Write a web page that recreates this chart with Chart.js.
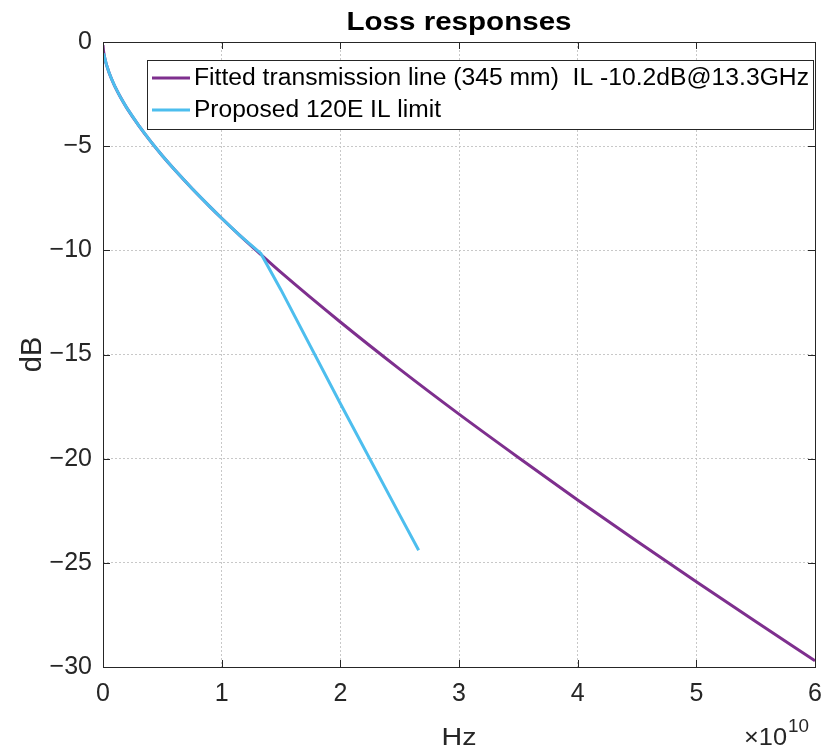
<!DOCTYPE html>
<html>
<head>
<meta charset="utf-8">
<script src="https://cdn.jsdelivr.net/npm/chart.js@4/dist/chart.umd.min.js"></script>
<style>
  html, body { margin: 0; padding: 0; background: #fff; }
  #wrap { width: 830px; height: 751px; }
</style>
</head>
<body>
<div id="wrap"><canvas id="lossChart" width="830" height="751"></canvas></div>
<script>
// --- Data (x in units of 1e10 Hz, y in dB) ---
const fittedFreq = [0, 0.005, 0.01, 0.02, 0.03, 0.05, 0.075, 0.1, 0.15, 0.2, 0.3, 0.4, 0.5, 0.6, 0.75, 0.9, 1.0, 1.15, 1.33, 1.5, 2.0, 2.5, 3.0, 3.5, 4.0, 4.5, 5.0, 5.5, 6.0];
const fittedLoss = [-0.15, -0.45, -0.62, -0.89, -1.10, -1.45, -1.81, -2.13, -2.68, -3.16, -4.00, -4.76, -5.46, -6.11, -7.03, -7.90, -8.46, -9.27, -10.2, -11.06, -13.44, -15.70, -17.86, -19.94, -21.98, -23.96, -25.91, -27.82, -29.70];

const limitFreq = [0.005, 0.01, 0.02, 0.03, 0.05, 0.075, 0.1, 0.15, 0.2, 0.3, 0.4, 0.5, 0.6, 0.75, 0.9, 1.0, 1.15, 1.33, 1.5, 2.0, 2.5, 2.66];
const limitLoss = [-0.55, -0.65, -0.90, -1.10, -1.45, -1.81, -2.13, -2.68, -3.16, -4.00, -4.76, -5.46, -6.11, -7.03, -7.90, -8.46, -9.27, -10.15, -11.9, -17.35, -22.7, -24.4];

const xTicks = [0, 1, 2, 3, 4, 5, 6];
const yTicks = [0, -5, -10, -15, -20, -25, -30];

const seriesNames = ['Fitted transmission line (345 mm)  IL -10.2dB@13.3GHz', 'Proposed 120E IL limit'];
const seriesColors = ['#7E2F8E', '#4DBEEE'];

const FONT = '"Liberation Sans", Arial, Helvetica, sans-serif';
const TEXT = '#262626';

const toPoints = (xs, ys) => xs.map((x, i) => ({ x, y: ys[i] }));
const fmtTick = (v) => (v < 0 ? '\u2212' + Math.abs(v) : String(v));

// draw text stretched horizontally to a target width (left edge or centre)
const drawStretched = (ctx, text, x, y, font, targetWidth, align) => {
    ctx.save();
    ctx.font = font;
    ctx.textAlign = 'left';
    const w = ctx.measureText(text).width;
    const sx = targetWidth ? targetWidth / w : 1;
    const left = align === 'center' ? x - (w * sx) / 2 : x;
    ctx.translate(left, y);
    ctx.scale(sx, 1);
    ctx.fillText(text, 0, 0);
    ctx.restore();
};

// --- Plugin: box, inward ticks, tick labels, title, axis labels, legend ---
const matlabDecor = {
    id: 'matlabDecor',
    afterDraw(chart) {
        const { ctx, chartArea: a, scales } = chart;
        ctx.save();

        // axes box
        ctx.strokeStyle = '#262626';
        ctx.lineWidth = 1;
        ctx.strokeRect(a.left + 0.5, a.top + 0.5, a.right - a.left, a.bottom - a.top);

        // inward tick marks
        const tl = 7;
        ctx.beginPath();
        xTicks.forEach(v => {
            const px = Math.round(scales.x.getPixelForValue(v)) + 0.5;
            ctx.moveTo(px, a.bottom); ctx.lineTo(px, a.bottom - tl);
            ctx.moveTo(px, a.top); ctx.lineTo(px, a.top + tl);
        });
        yTicks.forEach(v => {
            const py = Math.round(scales.y.getPixelForValue(v)) + 0.5;
            ctx.moveTo(a.left, py); ctx.lineTo(a.left + tl, py);
            ctx.moveTo(a.right, py); ctx.lineTo(a.right - tl, py);
        });
        ctx.stroke();

        // tick labels
        ctx.fillStyle = TEXT;
        ctx.font = '25px ' + FONT;
        ctx.textBaseline = 'middle';
        ctx.textAlign = 'center';
        xTicks.forEach(v => {
            ctx.fillText(fmtTick(v), scales.x.getPixelForValue(v), a.bottom + 27);
        });
        ctx.textAlign = 'right';
        yTicks.forEach(v => {
            ctx.fillText(fmtTick(v), a.left - 11, scales.y.getPixelForValue(v));
        });

        // title
        ctx.fillStyle = '#000';
        ctx.textBaseline = 'alphabetic';
        drawStretched(ctx, 'Loss responses', (a.left + a.right) / 2, 30, 'bold 25.5px ' + FONT, 225, 'center');

        // axis titles
        ctx.fillStyle = TEXT;
        drawStretched(ctx, 'Hz', (a.left + a.right) / 2, 745, '23.5px ' + FONT, 35, 'center');
        ctx.save();
        ctx.translate(41, (a.top + a.bottom) / 2);
        ctx.rotate(-Math.PI / 2);
        ctx.font = '29px ' + FONT;
        ctx.textAlign = 'center';
        ctx.fillText('dB', 0, 0);
        ctx.restore();

        // exponent label
        drawStretched(ctx, '\u00d710', 744, 745, '23.5px ' + FONT, 43, 'left');
        drawStretched(ctx, '10', 788, 732, '18.5px ' + FONT, 21, 'left');

        // legend
        const lx = 147, ly = 60, lw = 666, lh = 69;
        ctx.fillStyle = '#fff';
        ctx.fillRect(lx, ly, lw, lh);
        ctx.strokeStyle = '#262626';
        ctx.lineWidth = 1;
        ctx.strokeRect(lx + 0.5, ly + 0.5, lw, lh);
        const targets = [615, 247];
        seriesNames.forEach((name, i) => {
            const y = ly + 18 + i * 32;
            ctx.strokeStyle = seriesColors[i];
            ctx.lineWidth = 3;
            ctx.beginPath();
            ctx.moveTo(lx + 5, y); ctx.lineTo(lx + 43, y);
            ctx.stroke();
            ctx.fillStyle = '#000';
            ctx.textBaseline = 'middle';
            drawStretched(ctx, name, lx + 47, y + 1, '23.3px ' + FONT, targets[i], 'left');
        });

        ctx.restore();
    }
};

const ctx = document.getElementById('lossChart').getContext('2d');
new Chart(ctx, {
    type: 'line',
    data: {
        datasets: [
            {
                label: seriesNames[1],
                data: toPoints(limitFreq, limitLoss),
                borderColor: seriesColors[1],
                borderWidth: 3,
                pointRadius: 0,
                tension: 0
            },
            {
                label: seriesNames[0],
                data: toPoints(fittedFreq, fittedLoss),
                borderColor: seriesColors[0],
                borderWidth: 3,
                pointRadius: 0,
                cubicInterpolationMode: 'monotone'
            }
        ]
    },
    options: {
        responsive: false,
        animation: false,
        layout: { padding: { top: 42, right: 15, left: 0, bottom: 0 } },
        plugins: { legend: { display: false }, title: { display: false }, tooltip: { enabled: false } },
        scales: {
            x: {
                type: 'linear',
                min: 0, max: 6,
                afterFit: (s) => { s.height = 84; },
                afterBuildTicks: (s) => { s.ticks = xTicks.map(v => ({ value: v })); },
                ticks: { display: false },
                grid: { color: '#c8c8c8', drawTicks: false, lineWidth: 1 },
                border: { display: false, dash: [2, 2] }
            },
            y: {
                type: 'linear',
                min: -30, max: 0,
                afterFit: (s) => { s.width = 103; },
                afterBuildTicks: (s) => { s.ticks = yTicks.map(v => ({ value: v })); },
                ticks: { display: false },
                grid: { color: '#c8c8c8', drawTicks: false, lineWidth: 1 },
                border: { display: false, dash: [2, 2] }
            }
        }
    },
    plugins: [matlabDecor]
});
</script>
</body>
</html>
